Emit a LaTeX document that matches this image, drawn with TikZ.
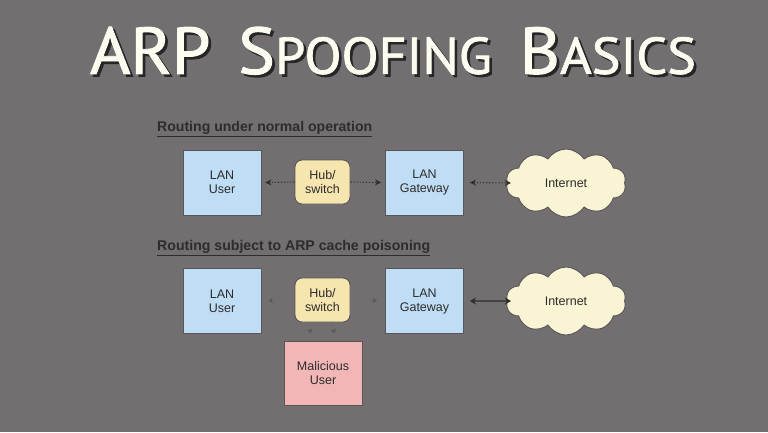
\documentclass[tikz,border=0pt]{standalone}
\usepackage{fontspec}
\setmainfont{Liberation Sans}
\newfontfamily\titlefont[FakeBold=1.4]{PT Sans}
\usetikzlibrary{shapes.symbols,arrows.meta}
\definecolor{bg}{HTML}{736E6F}
\definecolor{ink}{HTML}{2E2C2D}
\definecolor{boxblue}{HTML}{BFDDF5}
\definecolor{hubfill}{HTML}{F6E5AE}
\definecolor{cloudfill}{HTML}{F8F4D4}
\definecolor{pinkfill}{HTML}{F3B6B6}
\definecolor{titlecol}{HTML}{FCFCF0}
\definecolor{faint}{HTML}{555051}
\newcommand{\mytitletext}{ARP\hspace{0.4em}S{\fontsize{50}{50}\selectfont POOFING}\hspace{0.4em}B{\fontsize{50}{50}\selectfont ASICS}}
\newcommand{\mytitle}{\makebox[0pt][l]{\hspace{2.5pt}\raisebox{-2.5pt}{\color{black!85}\mytitletext}}{\color{titlecol}\mytitletext}}
\begin{document}
\begin{tikzpicture}[x=1pt,y=-1pt,
  box/.style={draw=ink!80, line width=0.9pt, fill=boxblue, minimum width=78pt, minimum height=65pt, align=center, font=\fontsize{12.5}{14}\selectfont, text=ink},
  hubbox/.style={draw=ink!80, line width=0.9pt, fill=hubfill, rounded corners=7pt, minimum width=55pt, minimum height=44pt, align=center, font=\fontsize{12.5}{14}\selectfont, text=ink},
  cloudnode/.style={cloud, cloud puffs=10, cloud puff arc=115, aspect=1.8, draw=ink!80, line width=0.9pt, fill=cloudfill, minimum width=120pt, minimum height=68pt, font=\fontsize{12.5}{14}\selectfont, text=ink},
  heading/.style={anchor=west, font=\bfseries\fontsize{12}{14}\selectfont, text=ink},
  dotarrow/.style={draw=ink, line width=1.1pt, dotted, -{Stealth[length=6pt,width=6pt]}},
  faintarrow/.style={draw=faint, line width=0.5pt, densely dotted, -{Stealth[length=4.5pt,width=5pt,open]}},
]
\fill[bg] (0,0) rectangle (768,432);
\useasboundingbox (0,0) rectangle (768,432);
% title
\node[font=\titlefont\fontsize{64}{64}\selectfont, inner sep=0] (title) at (393,52) {\resizebox{606pt}{47pt}{\mytitle}};
% section 1
\node[heading, inner sep=0] (h1) at (157,129) {\resizebox{215pt}{!}{\underline{Routing under normal operation}}};
\node[box] (user1) at (222,182.5) {LAN\\User};
\node[hubbox] (hub1) at (322.5,182) {Hub/\\switch};
\node[box] (gw1) at (424.5,182.5) {LAN\\Gateway};
\node[cloudnode] (net1) at (566,183) {Internet};
\draw[dotarrow] (hub1.west) -- ([xshift=4pt]user1.east);
\draw[dotarrow] (hub1.east) -- ([xshift=-4pt]gw1.west);
\draw[dotarrow, {Stealth[length=6pt,width=6pt]}-{Stealth[length=6pt,width=6pt]}] ([xshift=6pt]gw1.east) -- ([xshift=4pt]net1.west);
% section 2
\node[heading, inner sep=0] (h2) at (157,248) {\resizebox{273pt}{!}{\underline{Routing subject to ARP cache poisoning}}};
\node[box] (user2) at (222,301) {LAN\\User};
\node[hubbox] (hub2) at (322.5,300) {Hub/\\switch};
\node[box] (gw2) at (424.5,301) {LAN\\Gateway};
\node[cloudnode] (net2) at (566,301) {Internet};
\node[box, fill=pinkfill, minimum height=64pt] (mal) at (323,373.5) {Malicious\\User};
\draw[faintarrow] ([xshift=-20pt]hub2.west) -- ([xshift=7pt]user2.east);
\draw[faintarrow] ([xshift=19pt]hub2.east) -- ([xshift=-8pt]gw2.west);
\draw[faintarrow] ([xshift=-13pt,yshift=-3pt]hub2.south) -- ([xshift=-12pt,yshift=-11pt]hub2.south);
\draw[faintarrow] ([xshift=10pt,yshift=-3pt]hub2.south) -- ([xshift=12pt,yshift=-11pt]hub2.south);
\draw[draw=ink, line width=1.4pt, {Stealth[length=6pt,width=7pt]}-{Stealth[length=6pt,width=7pt]}] ([xshift=6pt]gw2.east) -- ([xshift=4pt]net2.west);
\end{tikzpicture}
\end{document}
